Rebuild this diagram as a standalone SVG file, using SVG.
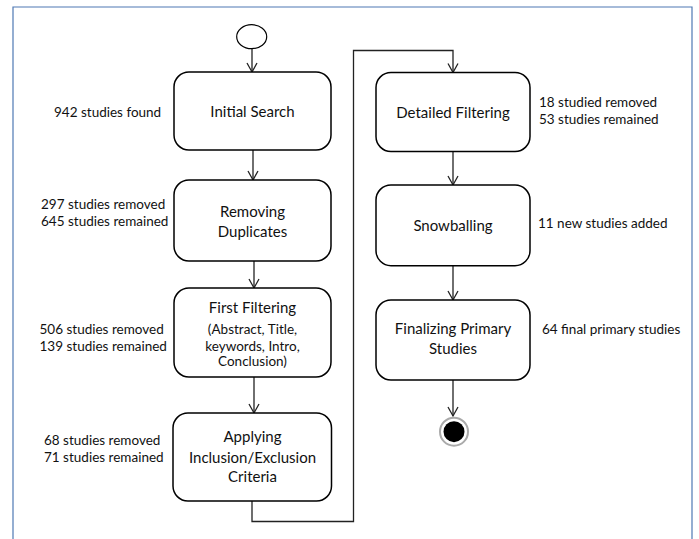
<svg xmlns="http://www.w3.org/2000/svg" width="699" height="539" viewBox="0 0 699 539">
<style>
.box{fill:#fff;stroke:#000;stroke-width:1.5}
.t{font-family:Lato,"Liberation Sans",sans-serif;font-size:15px;fill:#111;text-anchor:middle}
.ts{font-family:Lato,"Liberation Sans",sans-serif;font-size:13.5px;fill:#111;text-anchor:middle}
.l{font-family:Lato,"Liberation Sans",sans-serif;font-size:13.5px;fill:#111}
.c{fill:none;stroke:#222;stroke-width:1.3}
</style>
<defs>
<marker id="ah" markerUnits="userSpaceOnUse" markerWidth="12" markerHeight="12" viewBox="0 0 12 12" refX="10" refY="6" orient="auto">
<path d="M1,1 L10,6 L1,11" fill="none" stroke="#222" stroke-width="1.3"/>
</marker>
</defs>
<rect width="699" height="539" fill="#fff"/>
<path d="M13,539 V7 H692 V539" fill="none" stroke="#4F79B4" stroke-width="1.2"/>
<g id="connectors">
<path class="c" d="M252,49 V72" marker-end="url(#ah)"/>
<path class="c" d="M253,150 V180" marker-end="url(#ah)"/>
<path class="c" d="M254,261 V288" marker-end="url(#ah)"/>
<path class="c" d="M254,377 V413" marker-end="url(#ah)"/>
<path class="c" d="M252,501 V521.5 H353.5 V50.5 H453 V72.5" marker-end="url(#ah)"/>
<path class="c" d="M453,152 V185" marker-end="url(#ah)"/>
<path class="c" d="M453,266 V300" marker-end="url(#ah)"/>
<path class="c" d="M453,380 V416" marker-end="url(#ah)"/>
</g>
<g id="start">
<ellipse cx="251.7" cy="36.7" rx="15" ry="12" fill="#fff" stroke="#000" stroke-width="1.2"/>
</g>
<g id="initial-search">
<rect class="box" x="174" y="72" width="157" height="78" rx="15"/>
<text class="t" x="252.5" y="117">Initial Search</text>
<text class="l" x="54" y="116.5">942 studies found</text>
</g>
<g id="removing-duplicates">
<rect class="box" x="174" y="180" width="157" height="81" rx="15"/>
<text class="t" x="252.5" y="216.7">Removing</text>
<text class="t" x="252.5" y="236.7">Duplicates</text>
<text class="l" x="41" y="208.5">297 studies removed</text>
<text class="l" x="41" y="226.2">645 studies remained</text>
</g>
<g id="first-filtering">
<rect class="box" x="174" y="288" width="157" height="89" rx="15"/>
<text class="t" x="252.5" y="313.3">First Filtering</text>
<text class="ts" x="252.5" y="334">(Abstract, Title,</text>
<text class="ts" x="252.5" y="350.7">keywords, Intro,</text>
<text class="ts" x="252.5" y="366.4">Conclusion)</text>
<text class="l" x="39.5" y="333.8">506 studies removed</text>
<text class="l" x="39.5" y="350.5">139 studies remained</text>
</g>
<g id="applying-criteria">
<rect class="box" x="173" y="413" width="158.5" height="88" rx="15"/>
<text class="t" x="252.5" y="442">Applying</text>
<text class="t" x="252.5" y="463">Inclusion/Exclusion</text>
<text class="t" x="252.5" y="482">Criteria</text>
<text class="l" x="44" y="444.5">68 studies removed</text>
<text class="l" x="44" y="461.8">71 studies remained</text>
</g>
<g id="detailed-filtering">
<rect class="box" x="376" y="72.5" width="154" height="79" rx="15"/>
<text class="t" x="453" y="118">Detailed Filtering</text>
<text class="l" x="539" y="107.2">18 studied removed</text>
<text class="l" x="539" y="123.8">53 studies remained</text>
</g>
<g id="snowballing">
<rect class="box" x="376" y="185" width="154" height="80.7" rx="15"/>
<text class="t" x="453" y="231">Snowballing</text>
<text class="l" x="538" y="227.8">11 new studies added</text>
</g>
<g id="finalizing">
<rect class="box" x="376" y="300" width="154" height="80" rx="15"/>
<text class="t" x="453" y="334.3">Finalizing Primary</text>
<text class="t" x="453" y="354">Studies</text>
<text class="l" x="542" y="333.8">64 final primary studies</text>
</g>
<g id="end">
<circle cx="454" cy="431.7" r="14" fill="#fff" stroke="#aaa" stroke-width="2"/>
<circle cx="454" cy="431.7" r="10.5" fill="#000"/>
</g>
</svg>
